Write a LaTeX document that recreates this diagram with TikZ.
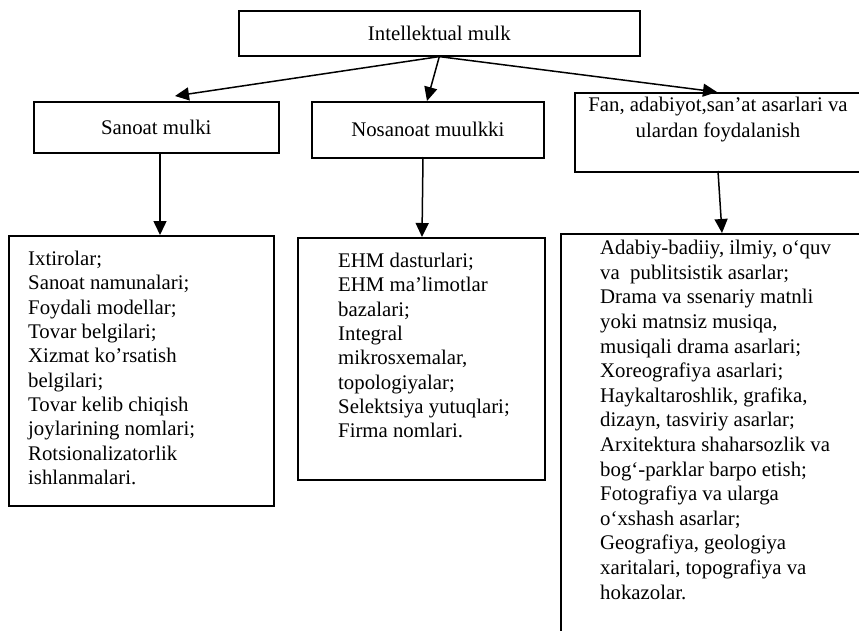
\documentclass[tikz,border=0pt]{standalone}
\usepackage{fontspec}
\setmainfont{Liberation Serif}
\usetikzlibrary{arrows.meta}
\begin{document}
\begin{tikzpicture}[x=1pt,y=-1pt,
  box/.style={draw, line width=1.6pt, inner sep=0pt, anchor=north west,
    font=\fontsize{20.8}{24}\selectfont},
  txt/.style={inner sep=0pt, align=left, anchor=north west,
    font=\fontsize{20.8}{24.3}\selectfont},
  arr/.style={-{Triangle[length=14pt,width=13pt]}, line width=1.5pt}]
\useasboundingbox (0,0) rectangle (859,630);
\clip (0,0) rectangle (859,630);
% top level
\node[box, minimum width=401pt, minimum height=45pt] (top) at (238,10) {Intellektual mulk};
% second level
\node[box, minimum width=245pt, minimum height=51pt] (sanoat) at (33,101) {Sanoat mulki};
\node[box, minimum width=232pt, minimum height=56pt] (nosanoat) at (311,101) {Nosanoat muulkki};
\node[box, minimum width=300pt, minimum height=79pt] (fan) at (574,92) {};
\node[txt, align=center, anchor=north, font=\fontsize{20.8}{26}\selectfont] (fantext) at (718,97)
  {Fan, adabiyot,san’at asarlari va\\ulardan foydalanish};
% third level
\node[box, minimum width=265pt, minimum height=270pt] (list1) at (8,235) {};
\node[box, minimum width=247pt, minimum height=242pt] (list2) at (297,237) {};
\node[box, minimum width=320pt, minimum height=420pt] (list3) at (560,233) {};
\node[txt] (list1text) at (28,251)
  {Ixtirolar;\\Sanoat namunalari;\\Foydali modellar;\\Tovar belgilari;\\Xizmat ko’rsatish\\belgilari;\\Tovar kelib chiqish\\joylarining nomlari;\\Rotsionalizatorlik\\ishlanmalari.};
\node[txt] (list2text) at (338,253)
  {EHM dasturlari;\\EHM ma’limotlar\\bazalari;\\Integral\\mikrosxemalar,\\topologiyalar;\\Selektsiya yutuqlari;\\Firma nomlari.};
\node[txt, font=\fontsize{20.8}{24.6}\selectfont] (list3text) at (600,240)
  {Adabiy-badiiy, ilmiy, o‘quv\\va\ \ publitsistik asarlar;\\Drama va ssenariy matnli\\yoki matnsiz musiqa,\\musiqali drama asarlari;\\Xoreografiya asarlari;\\Haykaltaroshlik, grafika,\\dizayn, tasviriy asarlar;\\Arxitektura shaharsozlik va\\bog‘-parklar barpo etish;\\Fotografiya va ularga\\o‘xshash asarlar;\\Geografiya, geologiya\\xaritalari, topografiya va\\hokazolar.};
% connector ends
\coordinate (sanoatin) at (175,96);
\coordinate (nosanoatin) at (427,101);
\coordinate (fanin) at (717,92);
\coordinate (s1) at (160,152);
\coordinate (n1) at (423,157);
\coordinate (f1) at (718,171);
\coordinate (l1in) at (160,235);
\coordinate (l2in) at (422,237);
\coordinate (l3in) at (722,233);
% connectors
\draw[arr] (top.south) -- (sanoatin);
\draw[arr] (top.south) -- (nosanoatin);
\draw[arr] (top.south) -- (fanin);
\draw[arr] (s1) -- (l1in);
\draw[arr] (n1) -- (l2in);
\draw[arr] (f1) -- (l3in);
\end{tikzpicture}
\end{document}
